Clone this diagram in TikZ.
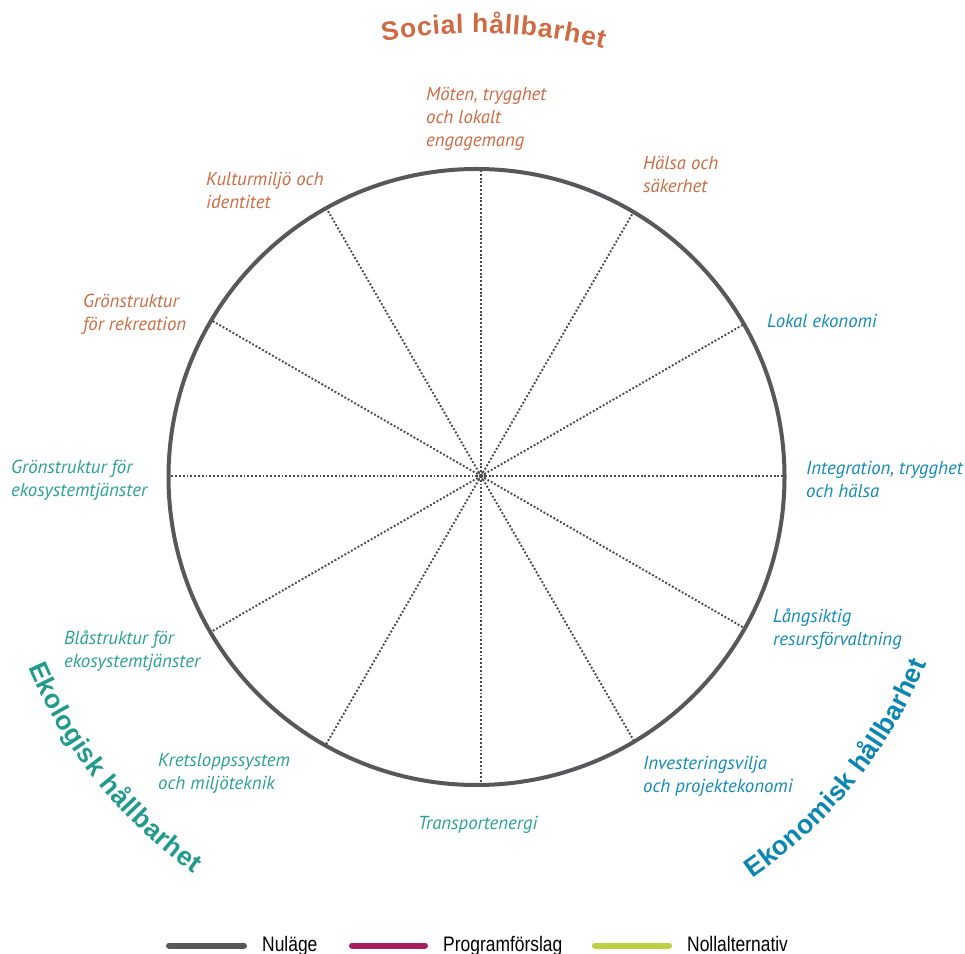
\documentclass[tikz,border=0pt]{standalone}
\usepackage{fontspec}
\setmainfont{PT Sans}
\newfontfamily\labelfont{PT Sans}
\newfontfamily\titlefont{Liberation Sans}
\newfontfamily\legendfont{Liberation Sans}[FakeStretch=0.83]
\usetikzlibrary{decorations.text}

\definecolor{socialc}{HTML}{CF6A42}
\definecolor{econc}{HTML}{128ABA}
\definecolor{econtitle}{HTML}{0B86B3}
\definecolor{ecoc}{HTML}{2AA096}
\definecolor{ecotitle}{HTML}{219A8E}
\definecolor{rimc}{HTML}{58585A}
\definecolor{spokec}{HTML}{4A4A4C}
\definecolor{progc}{HTML}{A51F5E}
\definecolor{nollc}{HTML}{BBD143}

\tikzset{
  rim/.style={draw=rimc, line width=4},
  spoke/.style={draw=spokec, line width=1.9, dash pattern=on 1.9pt off 1.9pt},
  % multi-line labels are placed by the baseline of their last line
  lbl/.style={anchor=base west, align=left, inner sep=0pt,
    font=\labelfont\itshape\fontsize{18.8}{23}\selectfont},
  legline/.style={line width=6, line cap=round},
  legtext/.style={anchor=base west, inner sep=0pt,
    font=\legendfont\fontsize{21}{21}\selectfont},
  titlechars/.style={font=\titlefont\bfseries\fontsize{26.5}{26.5}\selectfont}
}

\begin{document}
\begin{tikzpicture}[x=1pt, y=1pt]
\useasboundingbox (0,0) rectangle (965,953);

% wheel geometry
\coordinate (C) at (476.5,476);
\coordinate (S) at (481,477);
\coordinate (SocC) at (476,393);

% dotted spokes, clipped to the rim
\begin{scope}
  \clip (C) circle[radius=308];
  \foreach \a in {0,30,...,330}
    \draw[spoke] (S) -- ++(\a:340);
\end{scope}
\draw[spoke] (S) circle[radius=4];
\draw[rim] (C) circle[radius=308];

% dimension titles along arcs
\path[decorate, decoration={text effects along path,
    text={Social hållbarhet}, text align=center,
    text effects/.cd, text along path, fit text to path,
    characters={titlechars, text=socialc}}]
  ([shift={(100.2:527)}]SocC) arc[start angle=100.2, end angle=76, radius=527];

\path[decorate, decoration={text effects along path,
    text={Ekologisk hållbarhet}, text align=center,
    text effects/.cd, text along path, fit text to path,
    characters={titlechars, text=ecotitle}}]
  ([shift={(203:487)}]C) arc[start angle=203, end angle=234.5, radius=487];

\path[decorate, decoration={text effects along path,
    text={Ekonomisk hållbarhet}, text align=center,
    text effects/.cd, text along path, fit text to path,
    characters={titlechars, text=econtitle}}]
  ([shift={(-55.5:487)}]C) arc[start angle=-55.5, end angle=-22.5, radius=487];

% spoke labels
\node[lbl, text=socialc] (l1) at (426,806) {Möten, trygghet\\och lokalt\\engagemang};
\node[lbl, text=socialc] (l2) at (643,760) {Hälsa och\\säkerhet};
\node[lbl, text=econc] (l3) at (767,625) {Lokal ekonomi};
\node[lbl, text=econc] (l4) at (806,455) {Integration, trygghet\\och hälsa};
\node[lbl, text=econc] (l5) at (773,307) {Långsiktig\\resursförvaltning};
\node[lbl, text=econc] (l6) at (643,161) {Investeringsvilja\\och projektekonomi};
\node[lbl, text=ecoc] (l7) at (418,124) {Transportenergi};
\node[lbl, text=ecoc] (l8) at (158,164) {Kretsloppssystem\\och miljöteknik};
\node[lbl, text=ecoc] (l9) at (64,286) {Blåstruktur för\\ekosystemtjänster};
\node[lbl, text=ecoc] (l10) at (11,456) {Grönstruktur för\\ekosystemtjänster};
\node[lbl, text=socialc] (l11) at (83,622) {Grönstruktur\\för rekreation};
\node[lbl, text=socialc] (l12) at (206,744) {Kulturmiljö och\\identitet};

% legend
\draw[legline, draw=rimc] (169,7.5) -- (244,7.5);
\node[legtext] (n1) at (262,1.5) {Nuläge};
\draw[legline, draw=progc] (352,7.5) -- (425,7.5);
\node[legtext] (n2) at (443,1.5) {Programförslag};
\draw[legline, draw=nollc] (595,7.5) -- (669,7.5);
\node[legtext] (n3) at (687,1.5) {Nollalternativ};
\end{tikzpicture}
\end{document}
